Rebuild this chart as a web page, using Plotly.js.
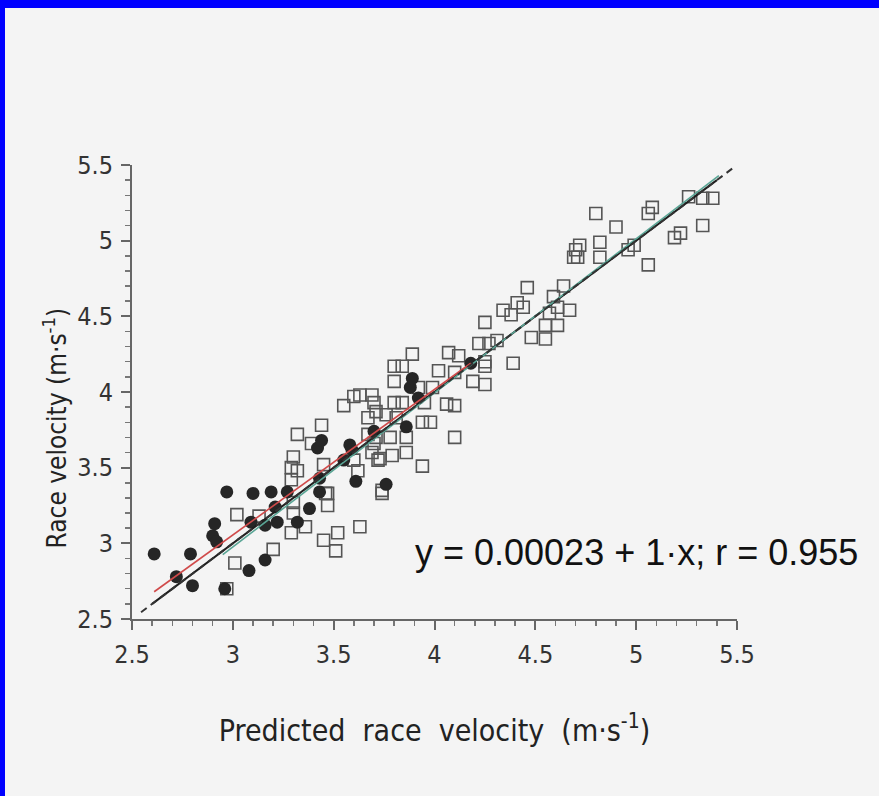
<!DOCTYPE html>
<html><head><meta charset="utf-8">
<script src="https://cdn.plot.ly/plotly-3.0.1.min.js"></script>
<style>
html,body{margin:0;padding:0;background:#0000ff;width:879px;height:796px;overflow:hidden}
#chart{position:absolute;left:5px;top:8px;width:874px;height:788px;background:#f4f4f4}
</style></head>
<body><div id="chart"></div>
<script>
// Open squares group
const squareX = [4.80,4.90,5.08,5.06,5.26,5.33,5.38,5.33,5.19,5.22,5.06,4.96,4.99,4.70,4.72,4.69,4.71,4.82,4.82,4.46,4.64,4.59,4.34,4.38,4.41,4.44,4.57,4.67,4.61,4.55,4.61,4.48,4.55,4.25,4.22,4.27,4.31,4.39,4.07,4.12,4.25,4.25,4.02,4.10,4.19,4.25,
3.89,3.84,3.80,3.80,3.92,3.99,4.06,4.10,4.10,3.94,3.94,3.98,3.95,3.80,3.84,3.76,3.81,3.67,3.71,3.63,3.69,3.70,3.60,3.55,3.67,3.71,3.70,3.69,3.73,3.72,3.79,3.86,3.78,3.86,3.62,3.60,3.74,3.74,3.63,
3.32,3.44,3.39,3.30,3.29,3.32,3.29,3.45,3.47,3.46,3.47,3.02,3.01,2.97,3.20,3.30,3.30,3.29,3.36,3.45,3.52,3.51,3.13];
const squareY = [5.18,5.09,5.22,5.18,5.29,5.28,5.28,5.10,5.02,5.05,4.84,4.94,4.97,4.94,4.97,4.89,4.89,4.99,4.89,4.69,4.70,4.63,4.54,4.51,4.59,4.56,4.52,4.54,4.56,4.44,4.44,4.36,4.35,4.46,4.32,4.32,4.34,4.19,4.26,4.24,4.20,4.17,4.14,4.13,4.07,4.05,
4.25,4.17,4.17,4.07,4.03,4.03,3.92,3.91,3.70,3.51,3.80,3.80,3.93,3.93,3.93,3.85,3.83,3.83,3.87,3.98,3.98,3.93,3.97,3.91,3.72,3.70,3.66,3.60,3.56,3.55,3.58,3.60,3.70,3.70,3.48,3.55,3.35,3.33,3.11,
3.72,3.78,3.66,3.57,3.50,3.48,3.42,3.52,3.33,3.33,3.25,3.19,2.87,2.70,2.96,3.27,3.20,3.07,3.11,3.02,3.07,2.95,3.18];
// Filled circles group
const circleX = [2.61,2.79,2.72,2.80,2.96,2.97,2.91,2.90,2.92,3.08,3.10,3.09,3.16,3.16,3.19,3.21,3.22,3.27,3.32,3.38,3.43,3.43,3.42,3.44,3.55,3.58,3.59,3.61,3.70,3.76,3.86,3.88,3.89,3.92,4.18];
const circleY = [2.93,2.93,2.78,2.72,2.70,3.34,3.13,3.05,3.01,2.82,3.33,3.14,2.89,3.12,3.34,3.24,3.14,3.34,3.14,3.23,3.43,3.34,3.63,3.68,3.55,3.65,3.62,3.41,3.74,3.39,3.77,4.03,4.09,3.96,4.19];
// Lines: identity, overall fit, circles fit, squares fit
const identityX = [2.545, 5.49];
const identityY = [2.545, 5.49];
const fitAllX = [2.60, 5.40];
const fitAllY = [2.60023, 5.40023];
const fitCircX = [2.61, 4.18];
const fitCircY = [2.68, 4.19];
const fitSqX = [2.95, 5.41];
const fitSqY = [2.925, 5.43];
const tickVals = [2.5,3,3.5,4,4.5,5,5.5];
const tickText = ['2.5','3','3.5','4','4.5','5','5.5'];

const traces = [
  {x:squareX,y:squareY,mode:'markers',type:'scatter',marker:{symbol:'square-open',size:12,color:'#555',line:{width:1.6,color:'#555'}},hoverinfo:'skip'},
  {x:circleX,y:circleY,mode:'markers',type:'scatter',marker:{symbol:'circle',size:13,color:'#262626'},hoverinfo:'skip'},
  {x:fitAllX,y:fitAllY,mode:'lines',type:'scatter',line:{color:'#1e1e1e',width:2}},
  {x:fitSqX,y:fitSqY,mode:'lines',type:'scatter',line:{color:'#5aa595',width:1.6}},
  {x:fitCircX,y:fitCircY,mode:'lines',type:'scatter',line:{color:'#d04a4a',width:1.6}},
  {x:identityX,y:identityY,mode:'lines',type:'scatter',line:{color:'#333',width:2,dash:'7px,5px'}}
];
const axisCommon = {
  range:[2.5,5.5], tickvals:tickVals, ticktext:tickText,
  showline:true, linecolor:'#666', linewidth:2, ticks:'outside', ticklen:9, tickwidth:2, tickcolor:'#666',
  showgrid:false, zeroline:false,
  minor:{dtick:0.1, ticks:'outside', ticklen:5, tickwidth:1.5, tickcolor:'#777', showgrid:false},
  tickfont:{family:'DejaVu Sans Condensed', size:25, color:'#333'}
};
const layout = {
  width:874, height:788,
  paper_bgcolor:'#f4f4f4', plot_bgcolor:'#f4f4f4',
  margin:{l:127, r:142, t:157, b:177},
  showlegend:false,
  xaxis: Object.assign({}, axisCommon, {ticklabelstandoff:3, title:{text:'Predicted  race  velocity  (m·s<sup>-1</sup>)', font:{family:'DejaVu Sans Condensed', size:30, color:'#222'}, standoff:52}}),
  yaxis: Object.assign({}, axisCommon, {ticklabelstandoff:3}),
  annotations:[
    {x:5.0, y:2.94, xref:'x', yref:'y', text:'y = 0.00023 + 1·x; r = 0.955', showarrow:false, font:{family:'Liberation Sans', size:36, color:'#111'}, xanchor:'center', yanchor:'middle'},
    {x:-0.127, y:0.42, xref:'paper', yref:'paper', text:'Race velocity (m·s<sup>-1</sup>)', textangle:-90, showarrow:false, font:{family:'DejaVu Sans Condensed', size:26, color:'#222'}, xanchor:'center', yanchor:'middle'}
  ]
};
Plotly.newPlot('chart', traces, layout, {staticPlot:true});
</script></body></html>
